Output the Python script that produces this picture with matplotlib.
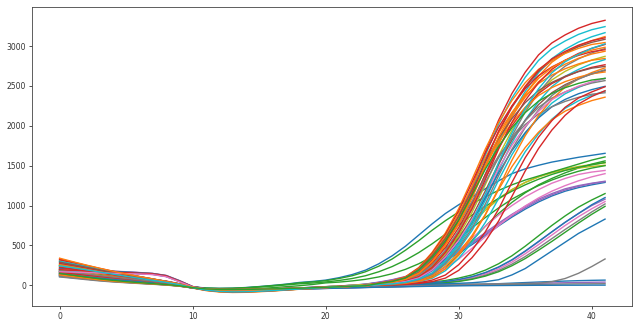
import matplotlib
matplotlib.use("Agg")
import matplotlib.pyplot as plt

# cycle numbers (x axis)
cycles = list(range(42))

# main amplification cluster, plateau ~2400-3300
high_curves = [
    [330, 290, 250, 212, 176, 142, 110, 80, 50, 18, -22, -52, -66, -72, -71, -66, -59, -51, -42, -33, -24, -16, -9, -3, 20, 40, 84, 167, 334, 568, 868, 1236, 1670, 2071, 2405, 2672, 2889, 3039, 3140, 3223, 3283, 3323],
    [235, 212, 188, 162, 136, 110, 85, 60, 35, 8, -32, -62, -78, -84, -82, -76, -68, -58, -48, -38, -28, -20, -12, -5, 20, 39, 82, 163, 326, 554, 848, 1206, 1630, 2021, 2347, 2608, 2820, 2967, 3064, 3146, 3205, 3244],
    [285, 255, 224, 193, 162, 132, 103, 76, 47, 15, -26, -56, -70, -76, -74, -69, -62, -53, -44, -35, -26, -18, -11, -4, 13, 29, 58, 112, 234, 432, 688, 1008, 1392, 1792, 2144, 2432, 2666, 2842, 2960, 3050, 3117, 3168],
    [205, 196, 187, 178, 170, 162, 155, 146, 120, 55, -18, -44, -55, -58, -57, -53, -48, -42, -36, -30, -24, -17, -10, -4, 13, 28, 57, 110, 230, 425, 677, 992, 1370, 1764, 2111, 2394, 2624, 2797, 2914, 3002, 3068, 3119],
    [170, 152, 133, 115, 98, 82, 66, 50, 30, 5, -30, -55, -65, -68, -66, -62, -56, -49, -41, -33, -25, -18, -11, -4, 19, 37, 78, 155, 310, 527, 806, 1147, 1550, 1922, 2232, 2480, 2682, 2821, 2914, 2992, 3047, 3085],
    [310, 275, 240, 205, 172, 140, 108, 78, 48, 16, -24, -54, -68, -74, -72, -67, -60, -52, -43, -34, -25, -17, -10, -3, 27, 55, 107, 223, 412, 656, 961, 1327, 1708, 2044, 2318, 2541, 2708, 2821, 2907, 2971, 3020, 3044],
    [118, 98, 78, 60, 46, 35, 25, 15, 5, -10, -32, -46, -52, -54, -52, -49, -45, -41, -36, -31, -25, -19, -13, -7, 9, 18, 36, 76, 151, 302, 513, 785, 1117, 1510, 1872, 2174, 2416, 2612, 2748, 2839, 2914, 2969],
    [255, 230, 203, 175, 147, 119, 92, 66, 40, 12, -30, -60, -76, -82, -80, -74, -66, -57, -47, -37, -28, -19, -11, -4, 27, 53, 104, 216, 400, 636, 932, 1288, 1658, 1983, 2250, 2466, 2628, 2738, 2821, 2883, 2930, 2954],
    [265, 238, 210, 182, 154, 126, 99, 73, 45, 14, -27, -57, -71, -77, -75, -70, -63, -54, -45, -36, -27, -19, -11, -4, 12, 26, 52, 102, 212, 392, 624, 914, 1262, 1624, 1943, 2204, 2416, 2575, 2683, 2764, 2825, 2871],
    [190, 170, 149, 128, 108, 89, 70, 52, 31, 6, -30, -55, -66, -70, -68, -63, -57, -50, -42, -34, -26, -18, -10, -3, 26, 51, 100, 208, 385, 613, 898, 1240, 1596, 1910, 2166, 2374, 2531, 2636, 2716, 2776, 2822, 2844],
    [180, 174, 168, 162, 157, 152, 148, 140, 112, 48, -20, -46, -56, -59, -58, -54, -49, -43, -37, -31, -25, -18, -11, -5, 9, 17, 35, 72, 144, 288, 490, 749, 1066, 1440, 1786, 2074, 2304, 2491, 2621, 2707, 2779, 2831],
    [320, 282, 244, 207, 172, 139, 107, 78, 49, 17, -23, -53, -67, -73, -72, -67, -60, -52, -43, -34, -25, -17, -10, -3, 17, 33, 70, 139, 278, 473, 723, 1029, 1390, 1724, 2002, 2224, 2405, 2530, 2613, 2683, 2733, 2766],
    [140, 117, 94, 73, 56, 42, 30, 18, 7, -9, -31, -45, -51, -53, -51, -48, -44, -40, -35, -30, -24, -18, -12, -6, 11, 24, 49, 95, 199, 367, 585, 857, 1183, 1523, 1822, 2067, 2266, 2415, 2516, 2592, 2649, 2693],
    [215, 195, 174, 151, 128, 104, 80, 57, 33, 7, -33, -63, -79, -85, -83, -77, -69, -59, -49, -39, -29, -20, -12, -5, 24, 48, 94, 196, 362, 576, 844, 1166, 1501, 1796, 2037, 2232, 2380, 2479, 2554, 2610, 2653, 2675],
    [300, 268, 235, 202, 169, 137, 106, 78, 48, 16, -25, -55, -69, -75, -73, -68, -61, -52, -43, -34, -25, -17, -10, -4, 8, 16, 32, 66, 132, 264, 449, 686, 977, 1320, 1637, 1901, 2112, 2284, 2402, 2482, 2548, 2595],
    [155, 139, 122, 106, 91, 76, 62, 47, 28, 4, -31, -56, -66, -69, -67, -63, -57, -50, -42, -34, -26, -18, -11, -4, 15, 31, 65, 129, 258, 439, 671, 955, 1290, 1600, 1858, 2064, 2232, 2348, 2425, 2490, 2536, 2567],
    [215, 205, 195, 185, 176, 167, 158, 148, 122, 58, -16, -43, -54, -57, -56, -52, -47, -41, -35, -29, -23, -16, -9, -3, 10, 23, 45, 88, 184, 340, 542, 794, 1096, 1411, 1688, 1915, 2099, 2238, 2331, 2402, 2454, 2495],
    [300, 265, 230, 196, 164, 133, 103, 75, 46, 14, -25, -54, -68, -74, -73, -68, -61, -53, -44, -35, -26, -18, -10, -4, 5, 10, 23, 45, 88, 183, 338, 538, 788, 1088, 1400, 1675, 1900, 2083, 2220, 2313, 2383, 2435],
    [105, 88, 71, 55, 42, 32, 22, 13, 3, -12, -34, -47, -53, -55, -53, -50, -46, -42, -37, -31, -25, -18, -11, -4, 22, 44, 85, 177, 327, 520, 762, 1053, 1355, 1621, 1839, 2016, 2149, 2239, 2306, 2357, 2396, 2415],
    [250, 224, 197, 169, 141, 113, 86, 60, 34, 6, -35, -66, -84, -90, -88, -81, -72, -61, -50, -40, -30, -21, -13, -6, 7, 14, 29, 60, 120, 240, 408, 624, 888, 1200, 1488, 1728, 1920, 2076, 2184, 2256, 2316, 2359],
    [275, 247, 217, 187, 157, 128, 100, 74, 46, 15, -26, -56, -70, -76, -74, -69, -62, -53, -44, -35, -26, -18, -11, -4, 3, 8, 15, 31, 65, 129, 258, 439, 671, 955, 1290, 1600, 1858, 2064, 2232, 2348, 2425, 2490],
    [160, 144, 127, 110, 94, 79, 64, 48, 29, 4, -31, -55, -65, -68, -66, -62, -56, -49, -41, -33, -25, -18, -11, -4, 3, 5, 10, 23, 46, 90, 187, 346, 550, 806, 1114, 1434, 1715, 1946, 2132, 2273, 2368, 2440],
    [195, 188, 180, 172, 165, 158, 152, 144, 118, 52, -19, -45, -55, -58, -57, -53, -48, -42, -36, -30, -24, -17, -10, -4, 19, 37, 78, 156, 312, 530, 811, 1154, 1560, 1934, 2246, 2496, 2699, 2839, 2933, 3011, 3067, 3104],
    [130, 109, 88, 68, 52, 39, 28, 17, 6, -9, -31, -45, -51, -53, -51, -48, -44, -40, -35, -30, -24, -18, -12, -6, 6, 11, 25, 50, 98, 204, 378, 602, 882, 1218, 1568, 1876, 2128, 2332, 2486, 2590, 2668, 2727],
    [250, 224, 198, 171, 144, 118, 92, 68, 42, 12, -28, -58, -72, -78, -76, -70, -63, -54, -45, -36, -27, -19, -11, -4, 18, 35, 74, 148, 295, 502, 767, 1092, 1475, 1829, 2124, 2360, 2552, 2685, 2773, 2847, 2900, 2935],
    [225, 203, 180, 156, 131, 106, 82, 58, 34, 8, -31, -61, -77, -83, -81, -75, -67, -57, -47, -37, -28, -19, -11, -4, 12, 27, 55, 107, 223, 412, 656, 961, 1327, 1708, 2044, 2318, 2541, 2708, 2821, 2907, 2971, 3020],
    [290, 258, 226, 193, 161, 131, 102, 74, 46, 15, -24, -54, -68, -74, -72, -67, -60, -52, -43, -34, -25, -17, -10, -3, 25, 50, 96, 201, 371, 591, 866, 1196, 1540, 1843, 2090, 2291, 2442, 2544, 2621, 2679, 2723, 2745],
    [180, 161, 141, 122, 104, 86, 68, 51, 31, 6, -29, -54, -64, -67, -65, -61, -55, -48, -40, -32, -24, -17, -10, -3, 8, 17, 33, 69, 138, 275, 468, 715, 1018, 1375, 1705, 1980, 2200, 2379, 2503, 2585, 2654, 2703],
    [170, 165, 160, 155, 150, 146, 142, 134, 108, 45, -21, -47, -57, -60, -59, -55, -50, -44, -38, -32, -26, -19, -12, -5, 10, 24, 47, 92, 191, 354, 563, 825, 1140, 1467, 1755, 1991, 2182, 2327, 2424, 2497, 2552, 2594],
    [340, 296, 254, 214, 177, 142, 109, 79, 49, 17, -23, -53, -67, -73, -72, -67, -60, -52, -43, -34, -25, -17, -10, -3, 18, 36, 75, 150, 300, 510, 780, 1110, 1500, 1860, 2160, 2400, 2595, 2730, 2820, 2895, 2949, 2985],
    [245, 220, 194, 167, 140, 113, 87, 62, 36, 9, -31, -61, -77, -83, -81, -75, -67, -57, -47, -37, -28, -19, -11, -4, 9, 18, 37, 77, 154, 308, 524, 801, 1140, 1540, 1910, 2218, 2464, 2664, 2803, 2895, 2972, 3028],
    [150, 126, 103, 81, 62, 46, 33, 21, 9, -7, -30, -45, -52, -54, -52, -49, -45, -41, -36, -31, -25, -19, -12, -6, 23, 47, 91, 190, 351, 559, 819, 1131, 1456, 1742, 1976, 2166, 2309, 2405, 2478, 2532, 2574, 2595],
]

# early risers that level off around 1500-1650
early_curves = [
    [150, 130, 110, 92, 75, 60, 46, 34, 22, 6, -20, -34, -38, -36, -28, -16, -2, 14, 35, 48, 65, 95, 135, 190, 270, 370, 490, 630, 770, 900, 1010, 1110, 1210, 1310, 1400, 1460, 1505, 1545, 1575, 1605, 1630, 1655],
    [200, 180, 158, 136, 114, 94, 74, 55, 36, 12, -22, -36, -40, -38, -30, -18, -4, 11, 30, 42, 58, 85, 120, 170, 240, 330, 440, 560, 690, 810, 920, 1020, 1110, 1190, 1260, 1320, 1370, 1420, 1470, 1520, 1570, 1610],
    [180, 160, 140, 120, 100, 82, 65, 48, 30, 8, -24, -38, -42, -40, -33, -22, -10, 4, 18, 28, 42, 60, 85, 120, 170, 235, 315, 410, 520, 640, 760, 880, 990, 1090, 1180, 1260, 1330, 1390, 1440, 1480, 1510, 1540],
    [240, 215, 190, 165, 140, 115, 92, 68, 44, 14, -26, -48, -55, -54, -48, -40, -30, -18, -6, 10, 30, 40, 55, 75, 105, 145, 200, 270, 360, 470, 590, 720, 850, 970, 1080, 1170, 1250, 1320, 1380, 1430, 1470, 1500],
]

# mid group ending 1300-1560
mid_curves = [
    [260, 232, 204, 176, 148, 120, 94, 68, 42, 12, -28, -58, -72, -76, -72, -64, -55, -46, -37, -28, -19, -10, -2, 8, 20, 40, 75, 140, 260, 430, 620, 800, 960, 1090, 1200, 1290, 1360, 1420, 1460, 1490, 1515, 1535],
    [175, 156, 137, 118, 100, 83, 66, 50, 31, 6, -28, -52, -62, -65, -63, -58, -52, -45, -38, -31, -24, -17, -10, -3, 5, 12, 24, 50, 110, 220, 380, 560, 740, 900, 1040, 1160, 1260, 1340, 1410, 1470, 1520, 1560],
    [210, 202, 194, 186, 178, 170, 160, 148, 125, 60, -15, -42, -53, -56, -55, -51, -46, -40, -34, -28, -22, -15, -8, -1, 8, 20, 45, 90, 180, 300, 440, 590, 740, 880, 1000, 1110, 1200, 1280, 1340, 1390, 1420, 1440],
    [190, 182, 174, 166, 158, 152, 146, 138, 112, 50, -20, -46, -56, -58, -56, -52, -46, -40, -33, -26, -18, -10, 0, 15, 40, 70, 110, 170, 240, 330, 430, 540, 660, 780, 890, 990, 1080, 1150, 1210, 1250, 1280, 1305],
    [165, 148, 131, 114, 98, 83, 68, 53, 34, 8, -27, -50, -60, -62, -60, -55, -49, -42, -34, -26, -18, -10, -1, 12, 34, 62, 100, 155, 225, 310, 405, 510, 625, 745, 855, 955, 1045, 1120, 1180, 1225, 1260, 1290],
    [150, 138, 126, 114, 103, 93, 84, 72, 54, 20, -24, -48, -58, -60, -58, -54, -48, -41, -33, -25, -17, -9, 1, 14, 36, 66, 105, 160, 232, 320, 418, 525, 642, 760, 870, 972, 1062, 1135, 1195, 1240, 1275, 1300],
    [245, 220, 194, 168, 142, 116, 90, 65, 40, 11, -29, -58, -72, -77, -74, -67, -58, -48, -38, -28, -18, -9, 0, 10, 24, 48, 90, 160, 270, 420, 590, 770, 940, 1080, 1200, 1290, 1360, 1410, 1445, 1470, 1490, 1505],
    [200, 193, 186, 179, 172, 165, 157, 146, 120, 55, -18, -44, -55, -58, -57, -53, -48, -42, -36, -30, -24, -17, -10, -3, 6, 15, 32, 65, 125, 215, 330, 465, 610, 750, 880, 995, 1095, 1180, 1250, 1310, 1360, 1400],
]

# late risers ending 830-1150
late_curves = [
    [170, 152, 134, 116, 99, 83, 67, 51, 32, 6, -29, -53, -63, -66, -64, -60, -54, -47, -40, -32, -24, -16, -8, 0, 10, 18, 26, 33, 40, 60, 90, 130, 190, 270, 370, 490, 620, 750, 870, 980, 1070, 1150],
    [195, 186, 177, 168, 160, 152, 145, 136, 110, 48, -21, -47, -57, -59, -57, -53, -48, -42, -36, -30, -24, -17, -10, -3, 4, 10, 16, 22, 30, 45, 70, 105, 155, 225, 315, 425, 545, 670, 790, 900, 1000, 1080],
    [205, 197, 189, 181, 173, 166, 158, 147, 121, 56, -17, -43, -54, -57, -56, -52, -47, -41, -35, -29, -23, -16, -9, -2, 4, 10, 16, 22, 30, 40, 60, 95, 140, 205, 290, 395, 510, 630, 750, 860, 960, 1050],
    [145, 128, 111, 95, 80, 66, 53, 40, 24, 2, -31, -52, -60, -62, -60, -56, -51, -45, -38, -31, -24, -17, -10, -3, 3, 8, 13, 19, 25, 35, 52, 82, 125, 185, 265, 360, 470, 585, 700, 810, 920, 1020],
    [130, 114, 98, 83, 69, 56, 44, 32, 18, -2, -33, -50, -56, -58, -56, -53, -48, -43, -37, -31, -24, -17, -10, -4, 2, 7, 12, 17, 23, 32, 48, 75, 115, 170, 245, 335, 440, 550, 665, 780, 890, 990],
    [125, 110, 95, 80, 66, 53, 41, 30, 17, -4, -34, -50, -56, -58, -56, -53, -48, -43, -37, -31, -25, -19, -13, -7, -2, 3, 8, 12, 16, 20, 25, 32, 45, 70, 130, 210, 320, 430, 540, 650, 740, 830],
    [140, 124, 108, 92, 77, 63, 50, 37, 22, 0, -32, -51, -58, -60, -58, -55, -50, -44, -38, -31, -24, -17, -10, -3, 4, 10, 17, 24, 33, 48, 72, 108, 160, 230, 320, 430, 550, 670, 790, 900, 1010, 1100],
]

# very late curve and flat (non-amplifying) wells
low_curve = [135, 120, 104, 89, 75, 62, 50, 38, 24, 2, -31, -50, -57, -59, -57, -54, -49, -44, -38, -32, -26, -20, -14, -8, -3, 1, 5, 8, 11, 13, 15, 16, 17, 18, 20, 22, 27, 45, 85, 150, 235, 330]

flat_curves = [
    [110, 94, 78, 63, 50, 38, 27, 17, 7, -8, -34, -52, -60, -62, -60, -57, -53, -49, -45, -41, -37, -33, -29, -25, -21, -17, -13, -9, -5, -1, 3, 8, 14, 20, 27, 34, 41, 47, 53, 58, 62, 65],
    [120, 104, 88, 72, 58, 46, 35, 24, 13, -4, -33, -52, -61, -64, -62, -59, -55, -51, -47, -43, -39, -35, -31, -27, -23, -19, -15, -11, -7, -3, 1, 5, 9, 13, 17, 21, 25, 29, 32, 35, 38, 40],
    [128, 112, 96, 80, 66, 53, 41, 30, 19, 0, -32, -51, -60, -63, -61, -58, -54, -50, -46, -42, -38, -34, -30, -26, -22, -18, -14, -10, -7, -4, -1, 2, 4, 6, 8, 10, 12, 14, 16, 18, 19, 20],
    [115, 98, 82, 66, 52, 40, 29, 19, 9, -6, -34, -53, -62, -65, -63, -60, -56, -52, -48, -44, -40, -36, -32, -28, -24, -21, -18, -15, -12, -9, -7, -5, -4, -3, -2, -1, 0, 0, 1, 1, 2, 2],
]

# line colours (styling only)
high_colors = ['tab:red', 'tab:cyan', 'tab:cyan', 'tab:orange', 'tab:brown', 'tab:orange',
               'tab:gray', 'tab:red', 'tab:olive', 'tab:orange', 'tab:cyan', 'tab:red',
               'tab:brown', 'tab:orange', 'tab:cyan', 'tab:gray', 'tab:blue', 'tab:cyan',
               'tab:gray', 'tab:orange', 'tab:red', 'tab:red', 'tab:red', 'tab:orange',
               'tab:orange', 'tab:red', 'tab:brown', 'tab:gray', 'tab:pink', 'tab:orange',
               'tab:cyan', 'tab:green']
early_colors = ['tab:blue', 'tab:green', 'tab:green', 'tab:green']
mid_colors = ['tab:olive', 'tab:green', 'tab:pink', 'tab:purple', 'tab:blue', 'tab:purple',
              'tab:olive', 'tab:pink']
late_colors = ['tab:green', 'tab:purple', 'tab:pink', 'tab:gray', 'tab:green', 'tab:blue', 'tab:blue']
flat_colors = ['tab:blue', 'tab:purple', 'tab:gray', 'tab:blue']

fig, ax = plt.subplots(figsize=(6.4, 3.27), dpi=100)
fig.subplots_adjust(left=0.0505, right=0.988, top=0.9795, bottom=0.064)

lw = 1.0
for ys, c in zip(flat_curves, flat_colors):
    ax.plot(cycles, ys, color=c, lw=lw)
ax.plot(cycles, low_curve, color='tab:gray', lw=lw)
for ys, c in zip(late_curves, late_colors):
    ax.plot(cycles, ys, color=c, lw=lw)
for ys, c in zip(mid_curves, mid_colors):
    ax.plot(cycles, ys, color=c, lw=lw)
for ys, c in zip(early_curves, early_colors):
    ax.plot(cycles, ys, color=c, lw=lw)
for ys, c in zip(high_curves, high_colors):
    ax.plot(cycles, ys, color=c, lw=lw)

ax.set_xticks([0, 10, 20, 30, 40])
ax.set_yticks([0, 500, 1000, 1500, 2000, 2500, 3000])
ax.tick_params(labelsize=5.5, length=2.5, width=0.6, pad=2, colors='#333333')
for s in ax.spines.values():
    s.set_linewidth(0.6)
    s.set_color('#444444')

fig.savefig('out.png', dpi=100)
